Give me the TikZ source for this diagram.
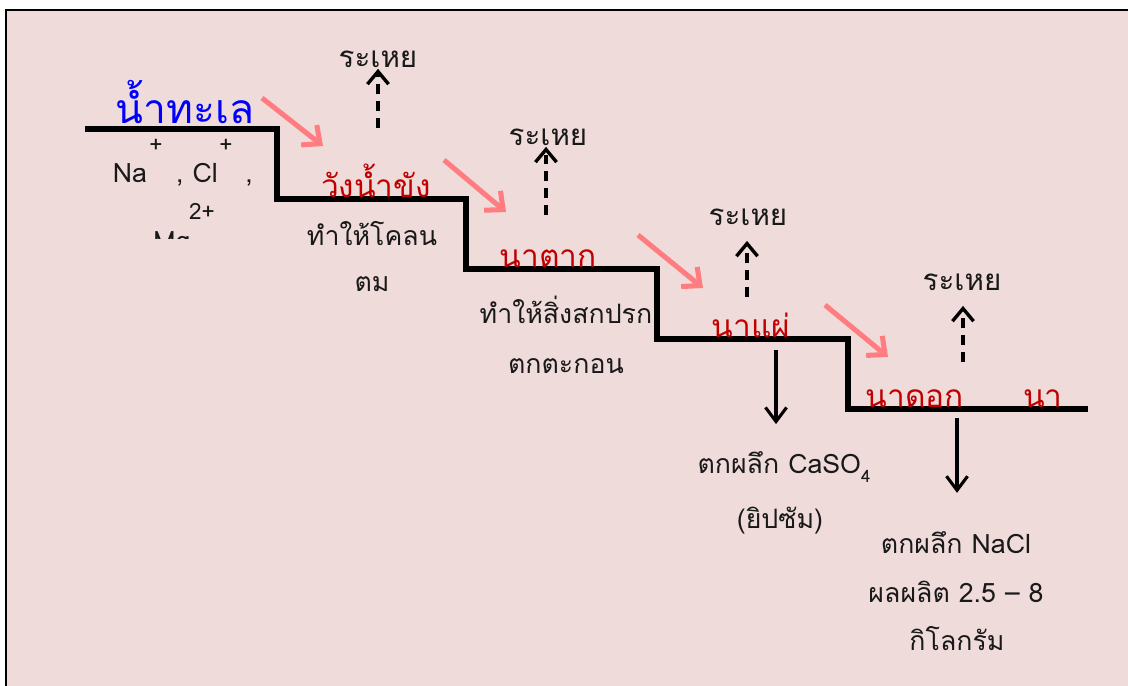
\documentclass[tikz,border=0pt]{standalone}
\usepackage{fontspec}
\setmainfont[Script=Thai]{Loma}
\usetikzlibrary{arrows.meta,positioning}
\definecolor{bgpink}{RGB}{240,219,219}
\definecolor{saltred}{RGB}{192,0,0}
\definecolor{flowpink}{RGB}{255,124,128}
\definecolor{ink}{RGB}{25,25,25}
\tikzstyle{stair} = [line width=3.6pt, line join=miter, line cap=rect]
\tikzstyle{vapor} = [line width=2.4pt, dash pattern=on 7pt off 5pt,
-{Straight Barb[length=9pt,width=15pt]}]
\tikzstyle{flow} = [line width=3.6pt, draw=flowpink,
-{Straight Barb[length=10pt,width=18pt]}]
\tikzstyle{drop} = [line width=2.2pt, -{Straight Barb[length=10pt,width=15pt]}]
\tikzset{every node/.style={font=\fontsize{19}{22}\selectfont, text=ink, inner sep=1pt}}
\tikzset{pond/.style={anchor=base, text=saltred, font=\fontsize{22.5}{26}\selectfont}}
\tikzset{note/.style={anchor=base}}
\tikzset{ion/.style={anchor=base, font=\fontsize{16}{18}\selectfont}}
\tikzset{evap/.style={anchor=base, font=\fontsize{21}{24}\selectfont}}

\begin{document}
\begin{tikzpicture}[x=0.025cm, y=-0.025cm]
            \useasboundingbox (0,0) rectangle (1128,685);
            \draw [fill=bgpink, line width=2pt] (6,10) rectangle (1150,700);
            % stairs
            \draw [stair] (88,129) -- (277,129) -- (277,199) -- (466,199)
            -- (466,269) -- (657,269) -- (657,339) -- (848,339) -- (848,409)
            -- (1085,409);
            % ponds
            \node [anchor=base, text=blue, font=\fontsize{29}{32}\selectfont]
            (sea) at (185,123) {น้ำทะเล};
            \node [pond] (keep) at (376,197) {วังน้ำขัง};
            \node [pond] (sun) at (548,267) {นาตาก};
            \node [pond] (half) at (751,337) {นาแผ่};
            \node [pond] (flower) at (915,407) {นาดอก};
            \node [pond] (field) at (1043,407) {นา};
            % ions (text box cut at the bottom)
            \node [note] (na) at (130,182) {Na};
            \node [ion] (na+) at (156,152) {+};
            \node [note] (cl) at (197,182) {, Cl};
            \node [ion] (cl+) at (226,152) {+};
            \node [note] (comma) at (249,182) {,};
            \node [ion] (mg2+) at (202,219) {2+};
            \begin{scope}
                \clip (100,200) rectangle (260,238);
                \node [note] (mg) at (172,250) {Mg};
            \end{scope}
            % notes below the steps
            \node [note] (mud1) at (372,245) {ทำให้โคลน};
            \node [note] (mud2) at (372,291) {ตม};
            \node [note] (dirt1) at (566,323) {ทำให้สิ่งสกปรก};
            \node [note] (dirt2) at (566,373) {ตกตะกอน};
            \node [note] (gyp1) at (784,473) {ตกผลึก CaSO\raisebox{-7pt}{\fontsize{12}{12}\selectfont 4}};
            \node [note] (gyp2) at (780,528) {(ยิปซัม)};
            \node [note] (salt1) at (956,553) {ตกผลึก NaCl};
            \node [note] (salt2) at (956,602) {ผลผลิต 2.5 – 8};
            \node [note] (salt3) at (957,650) {กิโลกรัม};
            % evaporation
            \node [evap] (evap1) at (378,67) {ระเหย};
            \node [evap] (evap2) at (548,145) {ระเหย};
            \node [evap] (evap3) at (748,225) {ระเหย};
            \node [evap] (evap4) at (962,290) {ระเหย};
            \coordinate (v1) at (378,128);
            \coordinate (v2) at (546,215);
            \coordinate (v3) at (747,297);
            \coordinate (v4) at (963,362);
            \draw [vapor] (v1) -- (v1 |- evap1.south);
            \draw [vapor] (v2) -- (v2 |- evap2.south);
            \draw [vapor] (v3) -- ([yshift=-10pt]v3 |- evap3.south);
            \draw [vapor] (v4) -- ([yshift=-10pt]v4 |- evap4.south);
            % flow of water
            \coordinate (f1a) at (262,98);  \coordinate (f1b) at (323,146);
            \coordinate (f2a) at (444,160); \coordinate (f2b) at (506,212);
            \coordinate (f3a) at (638,235); \coordinate (f3b) at (703,288);
            \coordinate (f4a) at (825,305); \coordinate (f4b) at (888,357);
            \draw [flow] (f1a) -- (f1b);
            \draw [flow] (f2a) -- (f2b);
            \draw [flow] (f3a) -- (f3b);
            \draw [flow] (f4a) -- (f4b);
            % crystals
            \coordinate (d1) at (776,350);
            \coordinate (d2) at (957,418);
            \draw [drop] (d1) -- ([yshift=18pt]d1 |- gyp1.north);
            \draw [drop] (d2) -- ([yshift=26pt]d2 |- salt1.north);
        \end{tikzpicture}
\end{document}
